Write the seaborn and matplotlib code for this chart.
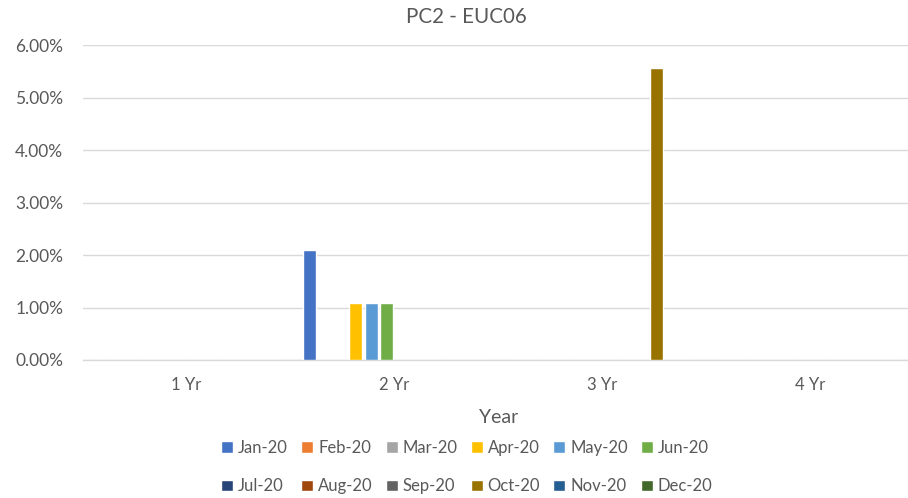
import numpy as np
import pandas as pd
import matplotlib
matplotlib.use("Agg")
import matplotlib.pyplot as plt
import seaborn as sns
from matplotlib.ticker import FuncFormatter, FixedLocator

# Terms on the x axis and one series per month
terms = ["1 Yr", "2 Yr", "3 Yr", "4 Yr"]
months = ["Jan-20", "Feb-20", "Mar-20", "Apr-20", "May-20", "Jun-20",
          "Jul-20", "Aug-20", "Sep-20", "Oct-20", "Nov-20", "Dec-20"]

jan_20 = [0.0, 0.0209, 0.0, 0.0]
feb_20 = [0.0, 0.0, 0.0, 0.0]
mar_20 = [0.0, 0.0, 0.0, 0.0]
apr_20 = [0.0, 0.0108, 0.0, 0.0]
may_20 = [0.0, 0.0108, 0.0, 0.0]
jun_20 = [0.0, 0.0108, 0.0, 0.0]
jul_20 = [0.0, 0.0, 0.0, 0.0]
aug_20 = [0.0, 0.0, 0.0, 0.0]
sep_20 = [0.0, 0.0, 0.0, 0.0]
oct_20 = [0.0, 0.0, 0.0557, 0.0]
nov_20 = [0.0, 0.0, 0.0, 0.0]
dec_20 = [0.0, 0.0, 0.0, 0.0]

series = [jan_20, feb_20, mar_20, apr_20, may_20, jun_20,
          jul_20, aug_20, sep_20, oct_20, nov_20, dec_20]

colors = ["#4472C4", "#ED7D31", "#A5A5A5", "#FFC000", "#5B9BD5", "#70AD47",
          "#264478", "#9E480E", "#636363", "#997300", "#255E91", "#43682B"]

yticks = [0.0, 0.01, 0.02, 0.03, 0.04, 0.05, 0.06]

rows = []
for m, vals in zip(months, series):
    for t, v in zip(terms, vals):
        rows.append({"Year": t, "Month": m, "Value": v})
df = pd.DataFrame(rows)

sns.set_theme(style="white")
plt.rcParams["font.family"] = ["Lato", "DejaVu Sans"]
text_color = "#595959"
grid_color = "#D9D9D9"

fig = plt.figure(figsize=(9.08, 4.98), dpi=100)
ax = fig.add_axes([82.7 / 908, 1 - 360 / 498, (914 - 82.7) / 908, (360 - 45) / 498])

sns.barplot(data=df, x="Year", y="Value", hue="Month", hue_order=months,
            order=terms, palette=colors, saturation=1, width=0.889, gap=0.156,
            errorbar=None, ax=ax, legend=True, zorder=3)

ax.set_xlim(-0.5, 3.5)
ax.set_ylim(0, 0.06)
ax.yaxis.set_major_locator(FixedLocator(yticks))
ax.yaxis.set_major_formatter(FuncFormatter(lambda v, _: f"{v * 100:.2f}%"))
ax.yaxis.grid(True, color=grid_color, linewidth=1.0, zorder=0)
ax.set_axisbelow(True)

for side in ["top", "right", "left"]:
    ax.spines[side].set_visible(False)
ax.spines["bottom"].set_color(grid_color)
ax.spines["bottom"].set_linewidth(1.0)
ax.spines["bottom"].set_zorder(2)

ax.tick_params(axis="y", length=0, pad=14, labelsize=12.5, labelcolor=text_color)
ax.tick_params(axis="x", which="major", length=0, pad=12, labelsize=12,
               labelcolor=text_color)
ax.set_xticks([-0.5, 0.5, 1.5, 2.5, 3.5], minor=True)
ax.tick_params(axis="x", which="minor", length=5, width=1.0, color=grid_color,
               direction="out")

ax.set_xlabel("Year", fontsize=14, color=text_color, labelpad=12)
ax.set_ylabel("")

fig.text(466 / 908, 1 - 17 / 498, "PC2 - EUC06", ha="center", va="center",
         fontsize=14.8, color=text_color)

# Legend laid out row by row: Jan..Jun on the first line, Jul..Dec on the second
handles, labels = ax.get_legend_handles_labels()
order = [i + r * 6 for i in range(6) for r in range(2)]
ax.legend([handles[i] for i in order], [labels[i] for i in order], ncol=6,
          loc="center", frameon=False,
          bbox_to_anchor=(467 / 908, 1 - 467 / 498), bbox_transform=fig.transFigure,
          fontsize=12, labelcolor=text_color, handlelength=0.7, handleheight=0.7,
          handletextpad=0.3, columnspacing=0.8, labelspacing=1.35)

fig.savefig("out.png", dpi=100)
